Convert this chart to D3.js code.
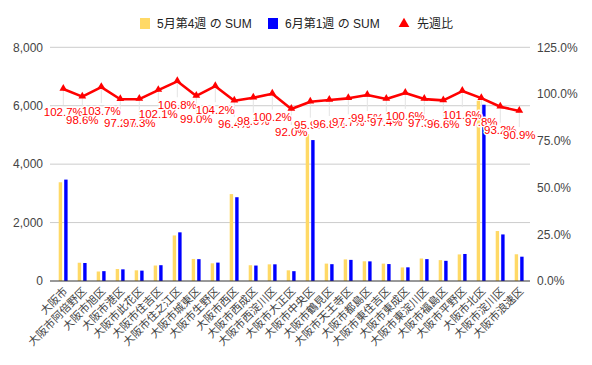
<!DOCTYPE html>
<html>
<head>
<meta charset="utf-8">
<script src="https://cdnjs.cloudflare.com/ajax/libs/d3/7.8.5/d3.min.js"></script>
<style>
  body { margin: 0; background: #fff; }
  svg text { font-family: Arial, 'Liberation Sans', 'Noto Sans CJK JP', sans-serif; }
</style>
</head>
<body>
<div id="chart"></div>
<script>
(function () {
  var wards = ['大阪市', '大阪市阿倍野区', '大阪市旭区', '大阪市港区', '大阪市此花区', '大阪市住吉区',
    '大阪市住之江区', '大阪市城東区', '大阪市生野区', '大阪市西区', '大阪市西成区', '大阪市西淀川区',
    '大阪市大正区', '大阪市中央区', '大阪市鶴見区', '大阪市天王寺区', '大阪市都島区', '大阪市東住吉区',
    '大阪市東成区', '大阪市東淀川区', '大阪市福島区', '大阪市平野区', '大阪市北区', '大阪市淀川区',
    '大阪市浪速区'];
  var may4 = [3380, 625, 325, 410, 365, 530, 1560, 755, 605, 2975, 540, 570, 365, 5030, 595, 740,
    675, 595, 465, 770, 715, 910, 6170, 1710, 915];
  var jun1 = [3471, 616, 337, 399, 355, 541, 1666, 747, 630, 2868, 529, 571, 336, 4824, 576, 723,
    672, 580, 468, 749, 691, 925, 6034, 1594, 832];
  var ratio = [102.7, 98.6, 103.7, 97.2, 97.3, 102.1, 106.8, 99.0, 104.2, 96.4, 98.0, 100.2, 92.0,
    95.9, 96.8, 97.7, 99.5, 97.4, 100.6, 97.3, 96.6, 101.6, 97.8, 93.2, 90.9];
  var leftTicks = [0, 2000, 4000, 6000, 8000];
  var rightTicks = [0, 25, 50, 75, 100, 125];
  var seriesNames = ['5月第4週 の SUM', '6月第1週 の SUM', '先週比'];

  var yellow = '#ffd966';
  var blue = '#0000ff';
  var red = '#ff0000';
  var width = 592, height = 365;

  var svg = d3.select('#chart').append('svg')
    .attr('width', width)
    .attr('height', height);

  var x = d3.scaleBand()
    .domain(wards)
    .range([53.8, 528.8]);

  var y = d3.scaleLinear()
    .domain([0, 8000])
    .range([281, 47.3]);

  var yRight = d3.scaleLinear()
    .domain([0, 125])
    .range([281, 47.3]);

  // grid lines
  svg.append('g').selectAll('line')
    .data(leftTicks.slice(1))
    .enter()
    .append('line')
    .attr('x1', 50)
    .attr('x2', 530)
    .attr('y1', function (d) { return y(d); })
    .attr('y2', function (d) { return y(d); })
    .attr('stroke', '#cccccc')
    .attr('stroke-width', 1);

  svg.append('g').selectAll('text')
    .data(leftTicks)
    .enter()
    .append('text')
    .attr('x', 43)
    .attr('y', function (d) { return y(d); })
    .attr('dy', '0.36em')
    .text(function (d) { return d3.format(',')(d); })
    .style('font-size', '12px')
    .style('fill', '#444')
    .style('text-anchor', 'end');

  svg.append('g').selectAll('text')
    .data(rightTicks)
    .enter()
    .append('text')
    .attr('x', 537)
    .attr('y', function (d) { return yRight(d); })
    .attr('dy', '0.36em')
    .text(function (d) { return d.toFixed(1) + '%'; })
    .style('font-size', '12px')
    .style('fill', '#444');

  // bars
  var bw = 3.4;
  svg.append('g').selectAll('rect')
    .data(may4)
    .enter()
    .append('rect')
    .attr('x', function (d, i) { return x(wards[i]) + x.bandwidth() / 2 - 4.6; })
    .attr('y', function (d) { return y(d); })
    .attr('width', bw)
    .attr('height', function (d) { return y(0) - y(d); })
    .style('fill', yellow);

  svg.append('g').selectAll('rect')
    .data(jun1)
    .enter()
    .append('rect')
    .attr('x', function (d, i) { return x(wards[i]) + x.bandwidth() / 2 + 0.9; })
    .attr('y', function (d) { return y(d); })
    .attr('width', bw)
    .attr('height', function (d) { return y(0) - y(d); })
    .style('fill', blue);

  // baseline
  svg.append('line')
    .attr('x1', 50)
    .attr('x2', 530)
    .attr('y1', y(0))
    .attr('y2', y(0))
    .attr('stroke', '#333')
    .attr('stroke-width', 1);

  function cx(i) { return x(wards[i]) + x.bandwidth() / 2; }

  // annotation stems
  svg.append('g').selectAll('line')
    .data(ratio)
    .enter()
    .append('line')
    .attr('x1', function (d, i) { return cx(i); })
    .attr('x2', function (d, i) { return cx(i); })
    .attr('y1', function (d) { return yRight(d); })
    .attr('y2', function (d) { return yRight(d) + 16; })
    .attr('stroke', '#e4e4e4')
    .attr('stroke-width', 1);

  var line = d3.line()
    .x(function (d, i) { return cx(i); })
    .y(function (d) { return yRight(d); });

  svg.append('path')
    .datum(ratio)
    .attr('fill', 'none')
    .attr('stroke', red)
    .attr('stroke-width', 2.6)
    .attr('stroke-linejoin', 'round')
    .attr('d', line);

  var tri = d3.symbol().type(d3.symbolTriangle).size(26);
  svg.append('g').selectAll('path')
    .data(ratio)
    .enter()
    .append('path')
    .attr('d', tri)
    .attr('transform', function (d, i) {
      return 'translate(' + cx(i) + ',' + (yRight(d) - 0.5) + ')';
    })
    .style('fill', red);

  // value labels with white aura, drawn in order
  var labels = svg.append('g');
  ratio.forEach(function (d, i) {
    labels.append('text')
      .attr('x', cx(i))
      .attr('y', yRight(d) + 27.5)
      .text(d.toFixed(1) + '%')
      .style('font-size', '11.5px')
      .style('text-anchor', 'middle')
      .style('fill', red)
      .style('stroke', '#fff')
      .style('stroke-width', 3)
      .style('stroke-linejoin', 'round')
      .style('paint-order', 'stroke');
  });

  // x axis labels
  svg.append('g').selectAll('text')
    .data(wards)
    .enter()
    .append('text')
    .attr('transform', function (d) {
      return 'translate(' + (x(d) + x.bandwidth() / 2 + 5) + ',' + 292 + ') rotate(-45)';
    })
    .text(function (d) { return d; })
    .style('font-size', '11px')
    .style('fill', '#444')
    .style('text-anchor', 'end');

  // legend
  var legend = svg.append('g').attr('class', 'legend');
  var legendX = [140, 268, 399];
  legend.append('rect')
    .attr('x', legendX[0]).attr('y', 18).attr('width', 10).attr('height', 11)
    .style('fill', yellow);
  legend.append('rect')
    .attr('x', legendX[1]).attr('y', 18).attr('width', 10).attr('height', 11)
    .style('fill', blue);
  legend.append('path')
    .attr('d', d3.symbol().type(d3.symbolTriangle).size(50))
    .attr('transform', 'translate(' + (legendX[2] + 5) + ',24)')
    .style('fill', red);
  legend.selectAll('text')
    .data(seriesNames)
    .enter()
    .append('text')
    .attr('x', function (d, i) { return legendX[i] + (i === 2 ? 18 : 17); })
    .attr('y', 24)
    .attr('dy', '0.36em')
    .text(function (d) { return d; })
    .style('font-size', '12px')
    .style('fill', '#222');
}());
</script>
</body>
</html>
